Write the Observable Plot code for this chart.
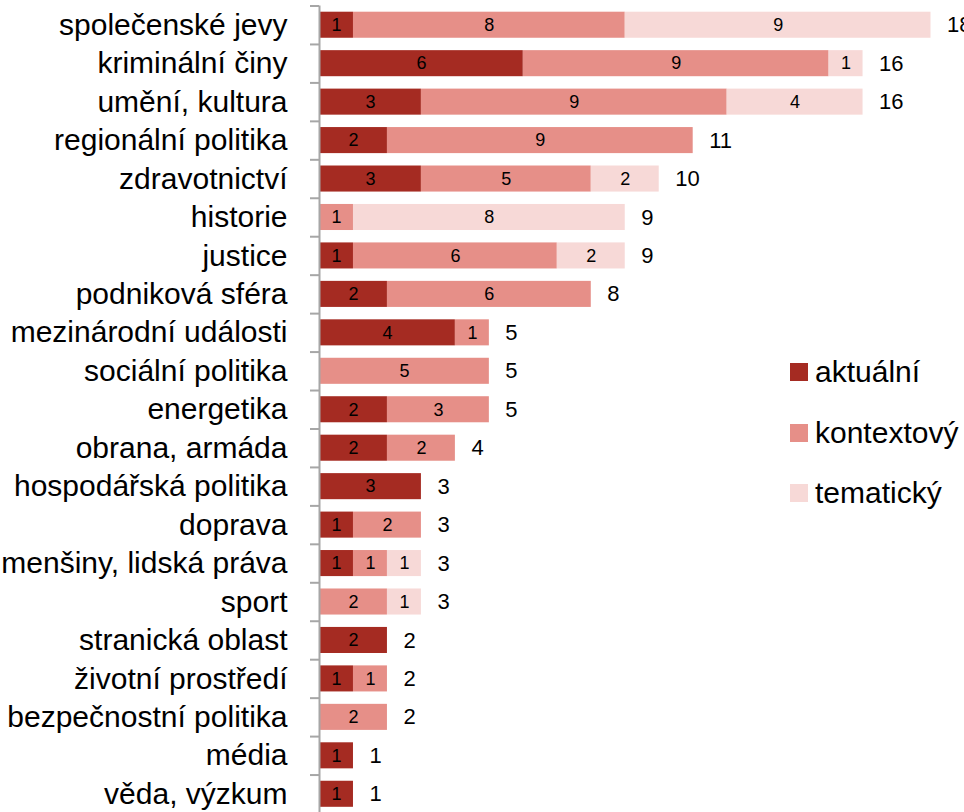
<!DOCTYPE html>
<html>
<head>
<meta charset="utf-8">
<script src="https://cdn.jsdelivr.net/npm/d3@7"></script>
<script src="https://cdn.jsdelivr.net/npm/@observablehq/plot@0.6"></script>
<style>
  html, body { margin: 0; padding: 0; overflow: hidden; background: #fff; }
  #wrap { position: relative; width: 964px; height: 812px; font-family: "Liberation Sans", Arial, sans-serif; }
  #legend { position: absolute; left: 790px; top: 342px; }
  .item { display: flex; align-items: center; height: 60.5px; font-size: 30px; color: #000; }
  .sw { width: 18px; height: 18px; margin-right: 7px; flex: none; }
</style>
</head>
<body>
<div id="wrap"><div id="chart"></div><div id="legend"></div></div>
<script>
const categories = ["společenské jevy","kriminální činy","umění, kultura","regionální politika","zdravotnictví","historie","justice","podniková sféra","mezinárodní události","sociální politika","energetika","obrana, armáda","hospodářská politika","doprava","menšiny, lidská práva","sport","stranická oblast","životní prostředí","bezpečnostní politika","média","věda, výzkum"];
const aktualni   = [1,6,3,2,3,0,1,2,4,0,2,2,3,1,1,0,2,1,0,1,1];
const kontextovy = [8,9,9,9,5,1,6,6,1,5,3,2,0,2,1,2,0,1,2,0,0];
const tematicky  = [9,1,4,0,2,8,2,0,0,0,0,0,0,0,1,1,0,0,0,0,0];
const types = ["aktuální","kontextový","tematický"];
const colors = ["#A52B22","#E68F88","#F7D9D7"];

const series = [aktualni, kontextovy, tematicky];
const data = [];
categories.forEach((cat, i) => {
  types.forEach((type, j) => {
    if (series[j][i] > 0) data.push({cat, type, value: series[j][i]});
  });
});
const totals = categories.map((cat, i) => ({cat, total: aktualni[i] + kontextovy[i] + tematicky[i]}));

const W = 964, H = 813, mT = 5.5, mB = 0;
const step = (H - mT - mB) / categories.length;

const chart = Plot.plot({
  width: W, height: H,
  marginLeft: 319, marginRight: 33.5, marginTop: mT, marginBottom: mB,
  style: {fontFamily: "Liberation Sans, Arial, sans-serif", background: "white"},
  x: {domain: [0, 18], axis: null},
  y: {domain: categories, padding: 0, round: false, axis: null},
  color: {domain: types, range: colors},
  marks: [
    Plot.barX(data, {x: "value", y: "cat", fill: "type", insetTop: 6.2, insetBottom: 6.2}),
    Plot.text(data, Plot.stackX({x: "value", y: "cat", z: "type", text: d => String(d.value), fontSize: 18, fill: "#000"})),
    Plot.text(totals, {x: "total", y: "cat", text: d => String(d.total), dx: 16, textAnchor: "start", fontSize: 22, fill: "#000"}),
    Plot.axisY({anchor: "left", label: null, tickSize: 0, tickPadding: 32, fontSize: 30, fill: "#000"}),
    Plot.axisY({anchor: "left", label: null, tickSize: 9, tickFormat: () => "", dy: -step / 2, stroke: "#A6A6A6", strokeWidth: 2}),
    Plot.ruleX([0], {stroke: "#A6A6A6", strokeWidth: 2})
  ]
});
document.getElementById("chart").appendChild(chart);

const legend = document.getElementById("legend");
types.forEach((t, j) => {
  const row = document.createElement("div");
  row.className = "item";
  const sw = document.createElement("span");
  sw.className = "sw";
  sw.style.background = colors[j];
  const lab = document.createElement("span");
  lab.textContent = t;
  row.appendChild(sw); row.appendChild(lab);
  legend.appendChild(row);
});
</script>
</body>
</html>
